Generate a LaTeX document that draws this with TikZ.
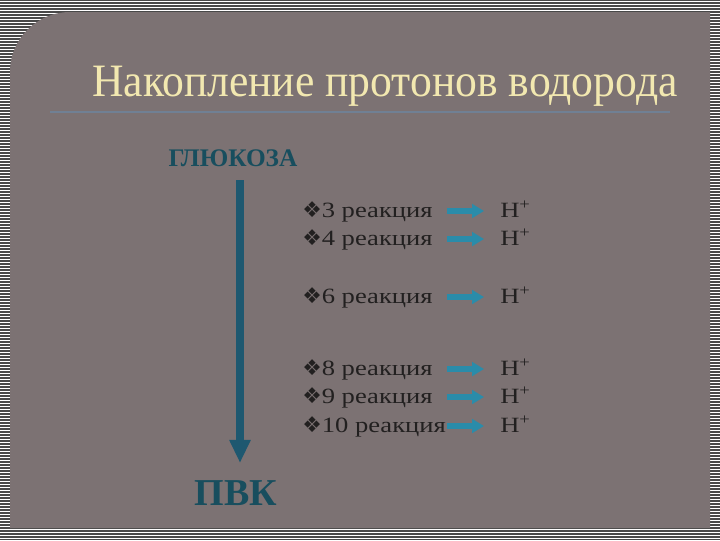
\documentclass[tikz,border=0pt]{standalone}
\usepackage{fontspec}
\setmainfont{Liberation Serif}
\newfontfamily\symfont{DejaVu Sans}
\newfontfamily\widefont[FakeStretch=1.22]{Liberation Serif}
\newfontfamily\titlefont[FakeStretch=0.94]{Liberation Serif}
\usetikzlibrary{arrows.meta}
\definecolor{outer}{RGB}{72,72,72}
\definecolor{panel}{RGB}{124,114,115}
\definecolor{titlecol}{RGB}{242,232,176}
\definecolor{rulecol}{RGB}{112,128,148}
\definecolor{tealdark}{RGB}{24,78,94}
\definecolor{flowcol}{RGB}{30,88,112}
\definecolor{hcol}{RGB}{42,140,170}
\definecolor{textcol}{RGB}{34,32,32}
\tikzset{reaction/.style={anchor=base west,inner sep=0pt,text=textcol,font=\widefont\fontsize{15.5}{17}\selectfont},
	hplus/.style={anchor=base west,inner sep=0pt,text=textcol,font=\widefont\fontsize{15.5}{17}\selectfont},
	harrow/.style={draw=hcol,line width=4.4pt,-{Triangle[length=0.3cm,width=0.34cm]},shorten >=0.4cm},
	flow/.style={draw=flowcol,line width=5pt,-{Triangle[length=0.58cm,width=0.5cm]}},
	keyword/.style={text=tealdark,font=\bfseries}}
\begin{document}
\begin{tikzpicture}[x=0.025cm,y=-0.025cm]
		\useasboundingbox (0,0) rectangle (720,540);
		\fill[outer] (0,0) rectangle (720,540);
		\foreach \y in {1.5,4.5,...,540}
			\draw[white,line width=0.5pt] (0,\y) -- (720,\y);
		\fill[panel] (10,528) -- (10,72) arc[start angle=180,end angle=270,radius=60] -- (710,12) -- (710,528) -- cycle;
		\node[text=titlecol,font=\titlefont\fontsize{33}{36}\selectfont] (title) at (385,86) {Накопление протонов водорода};
		\draw[rulecol,line width=1.5pt] (50,112) -- (670,112);
		\node[keyword,font=\bfseries\fontsize{18}{20}\selectfont] (glu) at (233,158) {ГЛЮКОЗА};
		\node[keyword,font=\bfseries\fontsize{27}{30}\selectfont] (pvk) at (236,493) {ПВК};
		\coordinate (fs) at (240,180);
		\coordinate (fe) at (240,463);
		\draw[flow] (fs) -- (fe);
		\begin{scope}[every node/.style={reaction}]
			\node (r3) at (302,217) {{\symfont ❖}3 реакция};
			\node (r4) at (302,245) {{\symfont ❖}4 реакция};
			\node (r6) at (302,303) {{\symfont ❖}6 реакция};
			\node (r8) at (302,375) {{\symfont ❖}8 реакция};
			\node (r9) at (302,403) {{\symfont ❖}9 реакция};
			\node (r10) at (302,432) {{\symfont ❖}10 реакция};
		\end{scope}
		\begin{scope}[every node/.style={hplus}]
			\node (h3) at (500,217) {H\textsuperscript{+}};
			\node (h4) at (500,245) {H\textsuperscript{+}};
			\node (h6) at (500,303) {H\textsuperscript{+}};
			\node (h8) at (500,375) {H\textsuperscript{+}};
			\node (h9) at (500,403) {H\textsuperscript{+}};
			\node (h10) at (500,432) {H\textsuperscript{+}};
		\end{scope}
		\foreach \r/\y in {3/211,4/239,6/297,8/369,9/397,10/426}{
			\coordinate (a\r) at (447,\y);
			\draw[harrow] (a\r) -- (a\r -| h\r.west);
		}
	\end{tikzpicture}
\end{document}
